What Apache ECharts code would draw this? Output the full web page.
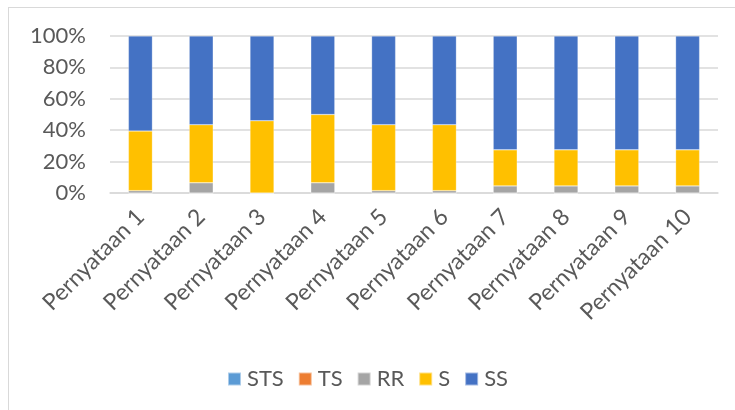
<!DOCTYPE html>
<html><head><meta charset="utf-8">
<script src="https://cdn.jsdelivr.net/npm/echarts@6/dist/echarts.min.js"></script>
<style>html,body{margin:0;padding:0;background:#fff}#c{width:735px;height:410px}
#frame{position:absolute;left:8px;top:7px;width:740px;height:420px;border:1.5px solid #d9d9d9;box-sizing:border-box;pointer-events:none}</style>
</head><body><div id="c"></div><div id="frame"></div>
<script>
const categories = ["Pernyataan 1","Pernyataan 2","Pernyataan 3","Pernyataan 4","Pernyataan 5","Pernyataan 6","Pernyataan 7","Pernyataan 8","Pernyataan 9","Pernyataan 10"];
const seriesNames = ["STS","TS","RR","S","SS"];
const STS = [0,0,0,0,0,0,0,0,0,0];
const TS  = [0,0,0,0,0,0,0,0,0,0];
const RR  = [1.5,6.5,0,6.5,1.5,1.5,4.5,4.5,4.5,4.5];
const S   = [38,37,46,43.5,42,42,23,23,23,23];
const SS  = [60.5,56.5,54,50,56.5,56.5,72.5,72.5,72.5,72.5];
const colors = ["#5b9bd5","#ed7d31","#a5a5a5","#ffc000","#4472c4"];
const yTicks = [0,20,40,60,80,100];
const font = "Lato, 'Liberation Sans', sans-serif";
const chart = echarts.init(document.getElementById('c'));
const data = [STS,TS,RR,S,SS];
chart.setOption({
  animation:false,
  color:colors,
  grid:{left:110,right:17,top:36,bottom:217,containLabel:false},
  legend:{top:363,left:'center',itemWidth:13,itemHeight:13,itemGap:14,icon:'rect',
    textStyle:{fontFamily:font,fontSize:22,color:'#595959',padding:[0,0,0,1]},data:seriesNames},
  xAxis:{type:'category',data:categories,
    axisLine:{lineStyle:{color:'#d9d9d9',width:1.5}},axisTick:{show:false},
    axisLabel:{rotate:45,interval:0,fontFamily:font,fontSize:23,color:'#595959',margin:20}},
  yAxis:{type:'value',min:0,max:100,interval:20,
    axisLine:{show:false},axisTick:{show:false},
    splitLine:{lineStyle:{color:'#d9d9d9',width:1.5}},
    axisLabel:{formatter:v=>yTicks.includes(v)?v+'%':'',fontFamily:font,fontSize:22,color:'#595959',margin:24}},
  series:seriesNames.map((n,i)=>({name:n,type:'bar',stack:'all',barWidth:24,data:data[i],
    itemStyle:{borderColor:'rgba(255,255,255,0.5)',borderWidth:0.5}}))
});
</script></body></html>
